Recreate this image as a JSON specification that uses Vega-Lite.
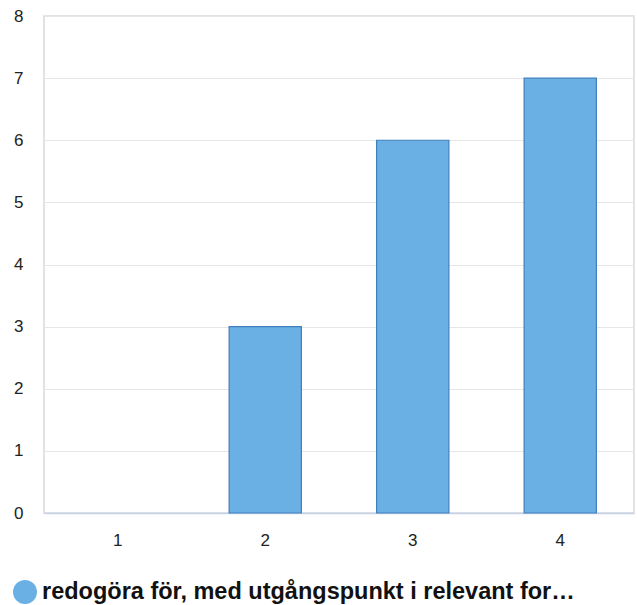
{
  "$schema": "https://vega.github.io/schema/vega-lite/v6.json",
  "width": 590,
  "height": 497,
  "autosize": {"type": "none"},
  "padding": {"left": 44, "top": 16, "right": 3, "bottom": 92},
  "background": "white",
  "data": {
    "values": [
      {"kategori": "1", "antal": 0, "serie": "redogöra för, med utgångspunkt i relevant for…"},
      {"kategori": "2", "antal": 3, "serie": "redogöra för, med utgångspunkt i relevant for…"},
      {"kategori": "3", "antal": 6, "serie": "redogöra för, med utgångspunkt i relevant for…"},
      {"kategori": "4", "antal": 7, "serie": "redogöra för, med utgångspunkt i relevant for…"}
    ]
  },
  "config": {
    "view": {"stroke": "#d9d9d9", "strokeWidth": 1.5},
    "font": "Liberation Sans"
  },
  "mark": {"type": "bar", "strokeWidth": 1.2},
  "encoding": {
    "x": {
      "field": "kategori",
      "type": "ordinal",
      "scale": {"paddingInner": 0.51, "paddingOuter": 0.255},
      "axis": {
        "title": null,
        "labelAngle": 0,
        "labelFont": "Liberation Sans",
        "labelFontSize": 17,
        "labelColor": "#222222",
        "labelPadding": 19,
        "ticks": false,
        "domainColor": "#c6d1e8",
        "domainWidth": 1.5
      }
    },
    "y": {
      "field": "antal",
      "type": "quantitative",
      "scale": {"domain": [0, 8], "nice": false},
      "axis": {
        "title": null,
        "values": [0, 1, 2, 3, 4, 5, 6, 7, 8],
        "labelFont": "Liberation Sans",
        "labelFontSize": 17,
        "labelColor": "#222222",
        "labelPadding": 21,
        "labelOverlap": false,
        "ticks": false,
        "domain": false,
        "gridColor": "#e6e6e6",
        "gridWidth": 1.2
      }
    },
    "stroke": {
      "condition": {"test": "datum.antal > 0", "value": "#3f80bd"},
      "value": null
    },
    "color": {
      "field": "serie",
      "type": "nominal",
      "scale": {"range": ["#6ab0e4"]},
      "legend": {
        "title": null,
        "orient": "none",
        "legendX": -31,
        "legendY": 564,
        "symbolType": "circle",
        "symbolSize": 576,
        "symbolStrokeWidth": 0,
        "symbolOpacity": 1,
        "labelFont": "Liberation Sans",
        "labelFontSize": 23.5,
        "labelFontWeight": "bold",
        "labelColor": "#111111",
        "labelOffset": 5,
        "labelLimit": 700
      }
    }
  }
}
